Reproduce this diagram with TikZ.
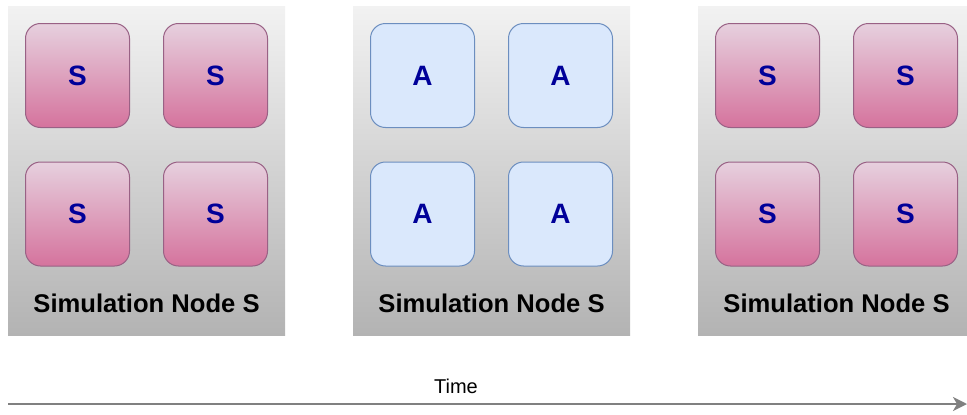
\documentclass[tikz,border=0pt]{standalone}
\usepackage{fontspec}
\setmainfont{Liberation Sans}
\usetikzlibrary{arrows.meta}
\definecolor{paneltop}{RGB}{242,242,242}
\definecolor{panelbot}{RGB}{179,179,179}
\definecolor{pinktop}{RGB}{230,208,222}
\definecolor{pinkbot}{RGB}{213,115,157}
\definecolor{pinkline}{RGB}{153,97,133}
\definecolor{bluefill}{RGB}{218,232,252}
\definecolor{blueline}{RGB}{108,142,191}
\definecolor{lettercol}{RGB}{0,0,153}
\definecolor{timegray}{RGB}{128,128,128}

\tikzset{
  panel/.style={rectangle, minimum width=277pt, minimum height=329pt, top color=paneltop, bottom color=panelbot, inner sep=0pt},
  simbox/.style={rectangle, rounded corners=15pt, minimum size=104pt, top color=pinktop, bottom color=pinkbot, draw=pinkline, line width=1pt, text=lettercol, font=\fontsize{28}{32}\selectfont\bfseries},
  appbox/.style={rectangle, rounded corners=15pt, minimum size=104pt, fill=bluefill, draw=blueline, line width=1pt, text=lettercol, font=\fontsize{28}{32}\selectfont\bfseries},
  panellabel/.style={font=\fontsize{25.6}{30}\selectfont\bfseries, text=black},
}

\begin{document}
\begin{tikzpicture}[x=1pt,y=-1pt]
        \useasboundingbox (0,0) rectangle (967,415);
        \clip (0,0) rectangle (967,415);
        % the three simulation nodes
        \node[panel] (p1) at (146.5,170.5) {};
        \node[panel] (p2) at (491.5,170.5) {};
        \node[panel] (p3) at (836.5,170.5) {};
        % first: simulation
        \node[simbox] (s11) at (77.5,75.5) {S};
        \node[simbox] (s12) at (215.5,75.5) {S};
        \node[simbox] (s13) at (77.5,214) {S};
        \node[simbox] (s14) at (215.5,214) {S};
        \node[panellabel] (l1) at (146.5,303) {Simulation Node S};
        % second: analysis
        \node[appbox] (a21) at (422.5,75.5) {A};
        \node[appbox] (a22) at (560.5,75.5) {A};
        \node[appbox] (a23) at (422.5,214) {A};
        \node[appbox] (a24) at (560.5,214) {A};
        \node[panellabel] (l2) at (491.5,303) {Simulation Node S};
        % third: simulation again
        \node[simbox] (s31) at (767.5,75.5) {S};
        \node[simbox] (s32) at (905.5,75.5) {S};
        \node[simbox] (s33) at (767.5,214) {S};
        \node[simbox] (s34) at (905.5,214) {S};
        \node[panellabel] (l3) at (836.5,303) {Simulation Node S};
        % time axis
        \coordinate (tstart) at (8,404);
        \coordinate (tend) at (967,404);
        \draw[-{Stealth[length=14pt,width=14pt,inset=4pt]}, timegray, line width=2pt] (tstart) -- (tend);
        \node[font=\fontsize{20}{24}\selectfont] (time) at (456,386) {Time};
\end{tikzpicture}
\end{document}
